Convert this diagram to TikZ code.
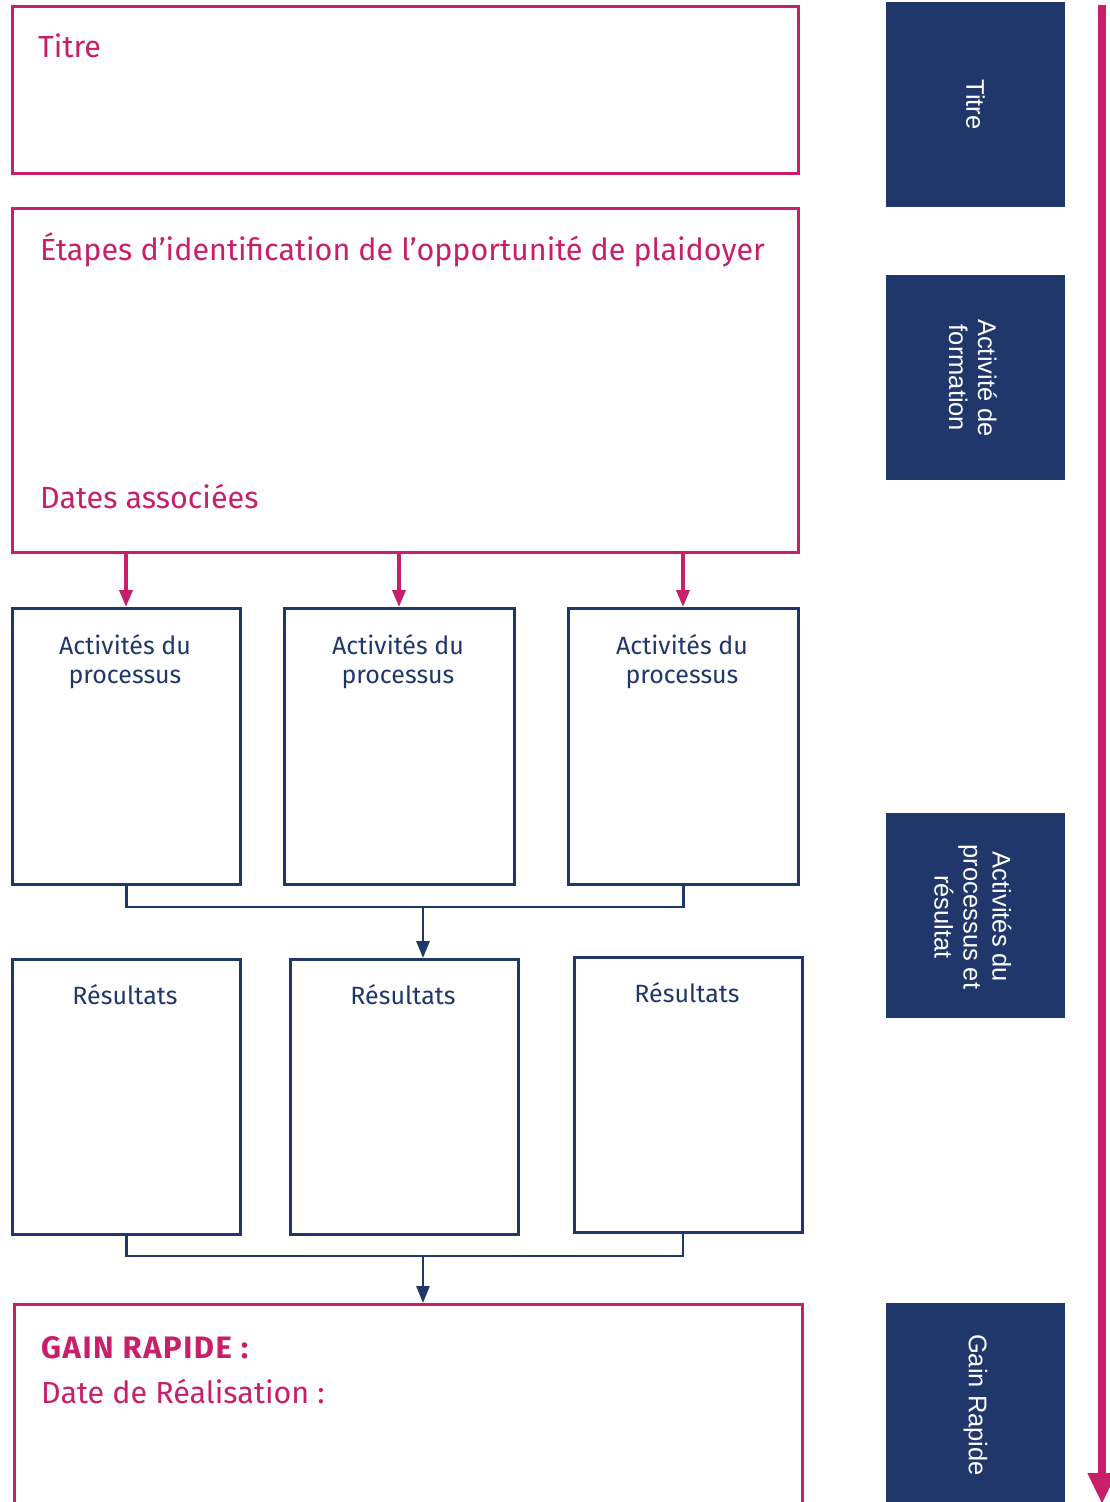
\documentclass[tikz,border=0pt]{standalone}
\usepackage{fontspec}
\setmainfont{Fira Sans}
\newfontfamily\sidefont{Liberation Sans}
\usetikzlibrary{arrows.meta}
\definecolor{pinkc}{HTML}{C81F6A}
\definecolor{navyc}{HTML}{1F376B}
\tikzset{
  pinkbox/.style={draw=pinkc, line width=3pt},
  navybox/.style={draw=navyc, line width=2.8pt},
  sidebox/.style={fill=navyc, draw=none},
  headtxt/.style={text=pinkc, anchor=base west, inner sep=0pt, font=\fontsize{30.5}{36}\selectfont},
  boxtxt/.style={text=navyc, anchor=base, inner sep=0pt, align=center, font=\fontsize{25}{28.5}\selectfont},
  sidetxt/.style={text=white, rotate=-90, align=center, inner sep=0pt, font=\sidefont\fontsize{25.5}{29}\selectfont},
  pinkarrow/.style={draw=pinkc, line width=3.5pt, -{Triangle[width=13pt,length=17pt]}},
  navyline/.style={draw=navyc, line width=2.8pt},
  navyarrow/.style={draw=navyc, line width=2.8pt, -{Triangle[width=13pt,length=17pt]}}
}
\begin{document}
\begin{tikzpicture}[x=1pt,y=-1pt]
\useasboundingbox (0,0) rectangle (1110,1502);
% pink boxes
\draw[pinkbox] (12,6) rectangle (798,173);
\node[headtxt] (titre) at (38,57) {Titre};
\draw[pinkbox] (12,208) rectangle (798,552);
\node[headtxt] (etapes) at (40,260) {Étapes d’identification de l’opportunité de plaidoyer};
\node[headtxt] (dates) at (40,508) {Dates associées};
% process boxes
\node[navybox, minimum width=228pt, minimum height=276pt, anchor=north west, inner sep=0pt] (p1) at (11,607) {};
\node[navybox, minimum width=230pt, minimum height=276pt, anchor=north west, inner sep=0pt] (p2) at (283,607) {};
\node[navybox, minimum width=230pt, minimum height=276pt, anchor=north west, inner sep=0pt] (p3) at (567,607) {};
\node[boxtxt] (p1t) at (125,683) {Activités du\\processus};
\node[boxtxt] (p2t) at (398,683) {Activités du\\processus};
\node[boxtxt] (p3t) at (682,683) {Activités du\\processus};
% pink arrows
\coordinate (a1) at (126,552);
\coordinate (a2) at (399,552);
\coordinate (a3) at (683,552);
\draw[pinkarrow] (a1) -- (a1 |- p1.north);
\draw[pinkarrow] (a2) -- (a2 |- p2.north);
\draw[pinkarrow] (a3) -- (a3 |- p3.north);
% result boxes
\node[navybox, minimum width=228pt, minimum height=275pt, anchor=north west, inner sep=0pt] (r1) at (11,958) {};
\node[navybox, minimum width=228pt, minimum height=275pt, anchor=north west, inner sep=0pt] (r2) at (289,958) {};
\node[navybox, minimum width=228pt, minimum height=275pt, anchor=north west, inner sep=0pt] (r3) at (573,956) {};
\node[boxtxt] (r1t) at (125,1004) {Résultats};
\node[boxtxt] (r2t) at (403,1004) {Résultats};
\node[boxtxt] (r3t) at (687,1002) {Résultats};
% connectors 1
\coordinate (j1) at (423,907);
\draw[navyline] (p1.south) -- (p1.south |- j1) -- (p3.south |- j1) -- (p3.south);
\draw[navyarrow] (j1) -- (j1 |- r2.north);
% connectors 2
\coordinate (j2) at (423,1256);
\draw[navyline] (r1.south) -- (r1.south |- j2) -- (683,1256) coordinate (c3) -- (683,1231);
\coordinate (g) at (423,1303);
\draw[navyarrow] (j2) -- (g);
% gain box
\draw[pinkbox] (14,1512) -- (14,1304) -- (802,1304) -- (802,1512);
\node[headtxt, font=\bfseries\fontsize{31}{36}\selectfont\addfontfeature{LetterSpace=5}] (gain) at (41,1358) {GAIN RAPIDE :};
\node[headtxt] (dater) at (41,1403) {Date de Réalisation :};
% side boxes
\fill[sidebox] (886,2) rectangle (1065,207);
\fill[sidebox] (886,275) rectangle (1065,480);
\fill[sidebox] (886,813) rectangle (1065,1018);
\fill[sidebox] (886,1303) rectangle (1065,1510);
\node[sidetxt] (s1) at (975.5,104.5) {Titre};
\node[sidetxt] (s2) at (973,378) {Activité de\\formation};
\node[sidetxt] (s3) at (973,917) {Activités du\\processus et\\résultat};
\node[sidetxt] (s4) at (975.5,1405) {Gain Rapide};
% timeline arrow
\coordinate (t0) at (1102,5);
\coordinate (t1) at (1102,1504);
\draw[draw=pinkc, line width=7.5pt, -{Triangle[width=27pt,length=31pt]}] (t0) -- (t1);
\end{tikzpicture}
\end{document}
